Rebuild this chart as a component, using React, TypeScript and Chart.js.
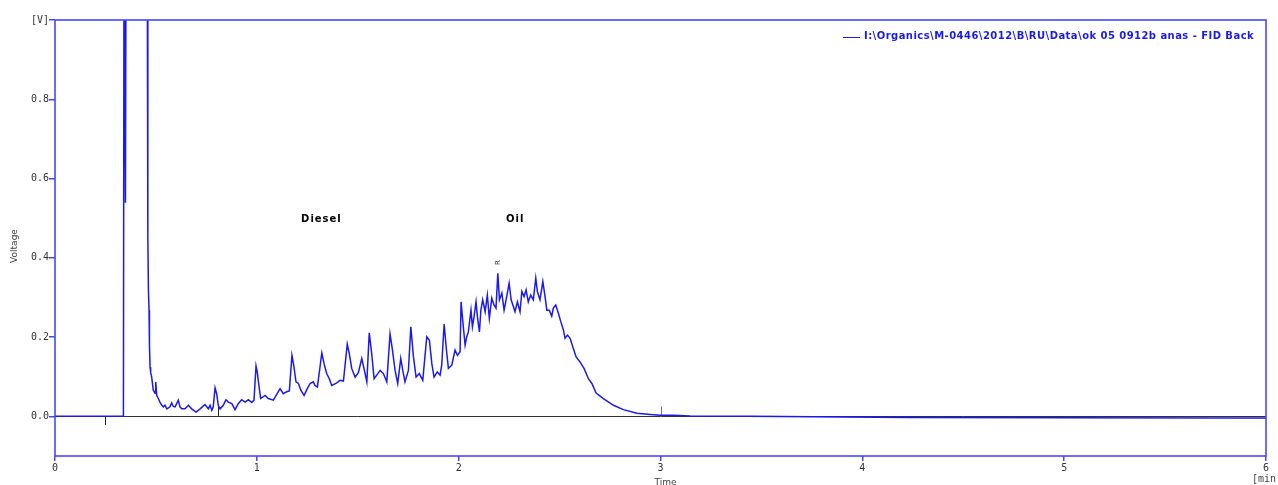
import React, { useEffect, useRef } from "react";
import { Chart, registerables } from "chart.js";

Chart.register(...registerables);

// Retention time [min]
const time: number[] = [
  0, 0.339, 0.342, 0.347, 0.348, 0.35, 0.352, 0.457, 0.46, 0.463, 0.466, 0.468, 0.471, 0.474, 0.479,
  0.487, 0.496, 0.499, 0.504, 0.512, 0.52, 0.529, 0.537, 0.545, 0.554, 0.57, 0.578, 0.586, 0.595,
  0.611, 0.619, 0.628, 0.644, 0.661, 0.677, 0.699, 0.719, 0.743, 0.76, 0.768, 0.777, 0.784, 0.793,
  0.801, 0.809, 0.818, 0.834, 0.847, 0.859, 0.876, 0.892, 0.908, 0.925, 0.942, 0.958, 0.975, 0.986,
  0.996, 1.002, 1.007, 1.019, 1.041, 1.057, 1.082, 1.115, 1.131, 1.148, 1.161, 1.174, 1.184, 1.194,
  1.206, 1.218, 1.234, 1.25, 1.264, 1.28, 1.288, 1.3, 1.322, 1.333, 1.346, 1.359, 1.371, 1.392, 1.412,
  1.429, 1.448, 1.458, 1.47, 1.487, 1.503, 1.52, 1.533, 1.545, 1.557, 1.569, 1.581, 1.594, 1.611,
  1.627, 1.644, 1.66, 1.671, 1.685, 1.698, 1.713, 1.723, 1.734, 1.751, 1.763, 1.776, 1.789, 1.805,
  1.822, 1.842, 1.855, 1.867, 1.878, 1.894, 1.908, 1.916, 1.928, 1.938, 1.949, 1.966, 1.982, 1.994,
  2.007, 2.012, 2.023, 2.032, 2.04, 2.048, 2.061, 2.068, 2.076, 2.086, 2.093, 2.103, 2.11, 2.119,
  2.131, 2.142, 2.152, 2.164, 2.175, 2.185, 2.194, 2.202, 2.214, 2.225, 2.238, 2.25, 2.26, 2.271,
  2.279, 2.291, 2.304, 2.313, 2.324, 2.334, 2.345, 2.357, 2.37, 2.382, 2.39, 2.403, 2.417, 2.428,
  2.437, 2.449, 2.461, 2.469, 2.481, 2.494, 2.506, 2.519, 2.527, 2.539, 2.552, 2.568, 2.582, 2.602,
  2.621, 2.643, 2.66, 2.681, 2.717, 2.767, 2.816, 2.883, 2.949, 2.998, 3.064, 3.147, 3.444, 4.222,
  5.808, 6.0,
];

// Detector signal [V]
const signal: number[] = [
  0, 0, 1.2, 0.775, 1.2, 0.539, 1.2, 1.2, 0.453, 0.319, 0.268, 0.18, 0.124, 0.111, 0.099,
  0.066, 0.058, 0.087, 0.053, 0.045, 0.036, 0.028, 0.024, 0.028, 0.019, 0.024, 0.034, 0.025, 0.024,
  0.041, 0.024, 0.019, 0.019, 0.028, 0.019, 0.011, 0.019, 0.03, 0.019, 0.028, 0.015, 0.024, 0.072,
  0.057, 0.028, 0.019, 0.028, 0.042, 0.036, 0.032, 0.017, 0.032, 0.042, 0.036, 0.042, 0.035, 0.041,
  0.127, 0.112, 0.091, 0.045, 0.053, 0.045, 0.041, 0.07, 0.057, 0.062, 0.064, 0.154, 0.125, 0.087,
  0.083, 0.066, 0.053, 0.07, 0.083, 0.087, 0.078, 0.074, 0.16, 0.133, 0.108, 0.095, 0.078, 0.083, 0.091,
  0.089, 0.182, 0.159, 0.121, 0.099, 0.11, 0.146, 0.116, 0.087, 0.211, 0.159, 0.095, 0.104, 0.116,
  0.108, 0.087, 0.208, 0.171, 0.116, 0.083, 0.146, 0.116, 0.087, 0.116, 0.226, 0.15, 0.099, 0.108,
  0.091, 0.201, 0.192, 0.133, 0.099, 0.112, 0.104, 0.129, 0.233, 0.175, 0.121, 0.129, 0.167, 0.154,
  0.163, 0.289, 0.226, 0.18, 0.201, 0.213, 0.268, 0.226, 0.251, 0.289, 0.251, 0.213, 0.268, 0.294,
  0.264, 0.306, 0.247, 0.298, 0.281, 0.273, 0.361, 0.294, 0.311, 0.268, 0.302, 0.336, 0.294, 0.277,
  0.264, 0.289, 0.264, 0.315, 0.302, 0.319, 0.289, 0.306, 0.294, 0.349, 0.315, 0.294, 0.34, 0.302,
  0.268, 0.268, 0.253, 0.273, 0.281, 0.26, 0.239, 0.218, 0.197, 0.205, 0.197, 0.171, 0.15, 0.137,
  0.121, 0.095, 0.083, 0.059, 0.045, 0.028, 0.017, 0.008, 0.005, 0.003, 0.003, 0.001, 0.0, -0.003,
  -0.004, -0.004,
];

const yTickValues: number[] = [0, 0.2, 0.4, 0.6, 0.8, 1.0];
const xTickValues: number[] = [0, 1, 2, 3, 4, 5, 6];
const yTopLabel = "[V]";
const xUnitLabel = "[min.]";
const xTitle = "Time";
const yTitle = "Voltage";

const legendText = "I:\\Organics\\M-0446\\2012\\B\\RU\\Data\\ok 05 0912b anas - FID Back";

const regionLabels: string[] = ["Diesel", "Oil"];
const regionLabelTimes: number[] = [1.32, 2.28];
const regionLabelVolts: number[] = [0.496, 0.496];

const peakMarkText = "R";
const peakMarkTime = 2.194;
const peakMarkVolt = 0.388;

const markerTimes: number[] = [0.25, 0.81, 3.0];
const markerFrom: number[] = [0, 0, 0];
const markerTo: number[] = [-0.022, 0.024, 0.025];
const markerColors: string[] = ["#222222", "#222222", "#777777"];

const BLUE = "#1a1aee";
const FRAME = "rgb(70,70,255)";

const overlayPlugin = {
  id: "overlay",
  beforeDatasetsDraw(chart: any) {
    const { ctx, chartArea: a, scales } = chart;
    const x = scales.x;
    const y = scales.y;
    ctx.save();
    const y0 = Math.round(y.getPixelForValue(0)) + 0.5;
    ctx.strokeStyle = "#333333";
    ctx.lineWidth = 1;
    ctx.beginPath();
    ctx.moveTo(a.left, y0);
    ctx.lineTo(a.right, y0);
    ctx.stroke();
    for (let i = 0; i < markerTimes.length; i++) {
      const px = Math.round(x.getPixelForValue(markerTimes[i])) + 0.5;
      ctx.strokeStyle = markerColors[i];
      ctx.beginPath();
      ctx.moveTo(px, y.getPixelForValue(markerFrom[i]));
      ctx.lineTo(px, y.getPixelForValue(markerTo[i]));
      ctx.stroke();
    }
    ctx.restore();
  },
  afterDatasetsDraw(chart: any) {
    const { ctx, chartArea: a, scales } = chart;
    const x = scales.x;
    const y = scales.y;
    ctx.save();
    // frame
    ctx.strokeStyle = FRAME;
    ctx.lineWidth = 1.6;
    ctx.strokeRect(a.left, a.top, a.right - a.left, a.bottom - a.top);

    // legend
    ctx.font = 'bold 10px "DejaVu Sans"';
    ctx.fillStyle = BLUE;
    ctx.textBaseline = "middle";
    const legendRight = a.right - 12;
    const legendLeft = 864;
    (ctx as any).letterSpacing = "0px";
    const raw = ctx.measureText(legendText).width;
    const ls = Math.max(0, (legendRight - legendLeft - raw) / legendText.length);
    (ctx as any).letterSpacing = ls.toFixed(2) + "px";
    ctx.textAlign = "left";
    const ly = a.top + 16.5;
    ctx.fillText(legendText, legendLeft, ly);
    (ctx as any).letterSpacing = "0px";
    ctx.strokeStyle = BLUE;
    ctx.lineWidth = 1;
    ctx.beginPath();
    ctx.moveTo(843, Math.round(ly) + 0.5);
    ctx.lineTo(860, Math.round(ly) + 0.5);
    ctx.stroke();

    // region labels
    ctx.fillStyle = "#000000";
    ctx.font = 'bold 10px "DejaVu Sans"';
    (ctx as any).letterSpacing = "1px";
    ctx.textAlign = "center";
    for (let i = 0; i < regionLabels.length; i++) {
      ctx.fillText(
        regionLabels[i],
        x.getPixelForValue(regionLabelTimes[i]),
        y.getPixelForValue(regionLabelVolts[i])
      );
    }
    (ctx as any).letterSpacing = "0px";

    // peak mark
    ctx.save();
    ctx.font = '7px "DejaVu Sans"';
    ctx.fillStyle = "#222222";
    ctx.translate(x.getPixelForValue(peakMarkTime), y.getPixelForValue(peakMarkVolt));
    ctx.rotate(-Math.PI / 2);
    ctx.textAlign = "center";
    ctx.fillText(peakMarkText, 0, 0);
    ctx.restore();

    // axis titles
    ctx.fillStyle = "#444444";
    ctx.font = '9px "DejaVu Sans"';
    ctx.save();
    ctx.translate(15, (a.top + a.bottom) / 2 + 8);
    ctx.rotate(-Math.PI / 2);
    ctx.textAlign = "center";
    ctx.fillText(yTitle, 0, 0);
    ctx.restore();

    ctx.textAlign = "center";
    ctx.fillText(xTitle, (a.left + a.right) / 2 + 5, 483);
    ctx.font = '10px "DejaVu Sans Mono"';
    ctx.textAlign = "left";
    ctx.fillText(xUnitLabel, a.right - 14, 479);
    ctx.restore();
  },
};

export default function App() {
  const canvasRef = useRef<HTMLCanvasElement | null>(null);

  useEffect(() => {
    document.body.style.margin = "0";
    document.body.style.overflow = "hidden";
    const canvas = canvasRef.current;
    if (!canvas) return;
    const points = time.map((t, i) => ({ x: t, y: signal[i] }));
    const chart = new Chart(canvas, {
      type: "line",
      data: {
        datasets: [
          {
            data: points,
            borderColor: BLUE,
            borderWidth: 1.5,
            pointRadius: 0,
            tension: 0,
            fill: false,
          },
        ],
      },
      options: {
        animation: false,
        responsive: false,
        events: [],
        layout: { padding: { top: 20, right: 12, left: 0, bottom: 0 } },
        plugins: {
          legend: { display: false },
          tooltip: { enabled: false },
          title: { display: false },
        },
        scales: {
          x: {
            type: "linear",
            min: 0,
            max: 6,
            afterBuildTicks: (scale: any) => {
              scale.ticks = xTickValues.map((v) => ({ value: v }));
            },
            afterFit: (scale: any) => {
              scale.height = 29;
            },
            border: { display: false },
            grid: {
              drawOnChartArea: false,
              drawTicks: true,
              tickLength: 5,
              color: FRAME,
              lineWidth: 1.5,
            },
            ticks: {
              color: "#333333",
              font: { family: "DejaVu Sans Mono", size: 10 },
              padding: 1,
              maxRotation: 0,
              callback: (v: any) => String(v),
            },
          },
          y: {
            type: "linear",
            min: -0.1,
            max: 1.0,
            afterBuildTicks: (scale: any) => {
              scale.ticks = yTickValues.map((v) => ({ value: v }));
            },
            afterFit: (scale: any) => {
              scale.width = 55;
            },
            border: { display: false },
            grid: {
              drawOnChartArea: false,
              drawTicks: true,
              tickLength: 6,
              color: FRAME,
              lineWidth: 1.5,
            },
            ticks: {
              color: "#333333",
              font: { family: "DejaVu Sans Mono", size: 10 },
              padding: 0,
              callback: (v: any) => (Number(v) >= 1 ? yTopLabel : Number(v).toFixed(1)),
            },
          },
        },
      },
      plugins: [overlayPlugin],
    });
    return () => chart.destroy();
  }, []);

  return (
    <div style={{ width: 1278, height: 485, position: "relative", background: "#ffffff" }}>
      <canvas ref={canvasRef} width={1278} height={485} style={{ width: 1278, height: 485, display: "block" }} />
    </div>
  );
}
